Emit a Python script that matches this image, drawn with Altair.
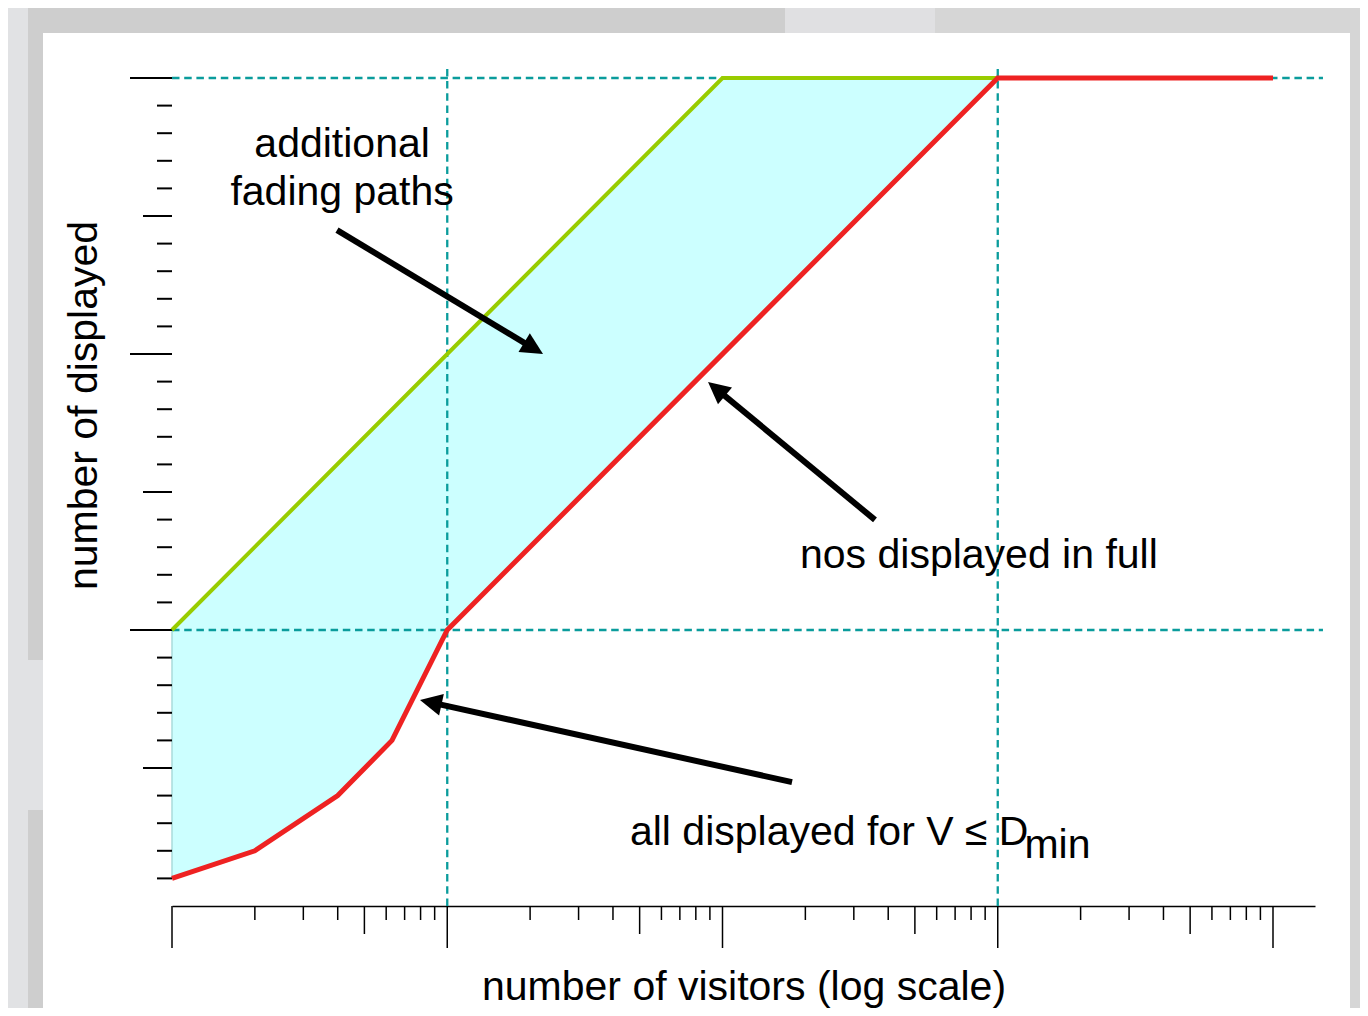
import altair as alt
import pandas as pd

# ---- data (x: visitors, log; y: number displayed) ----
red_x = [1, 2, 4, 6.3, 10, 1000, 10000]
red_y = [1, 2, 4, 6, 10, 30, 30]
green_x = [1, 100, 1000]
green_y = [10, 30, 30]
band_x = [1, 2, 4, 6.3, 10, 100, 1000]
band_upper = [10, 13, 16, 18, 20, 30, 30]
band_lower = [1, 2, 4, 6, 10, 20, 30]

guide_h_y = [30, 10]
guide_h_x0 = [1, 1]
guide_h_x1 = [15190, 15190]
guide_v_x = [10, 1000]
guide_v_y0 = [0, 0]
guide_v_y1 = [30.36, 30.36]

x_ticks_major = [1, 10, 100, 1000, 10000]
x_ticks_mid = [5, 50, 500, 5000]
x_ticks_minor = [2, 3, 4, 6, 7, 8, 9,
                 20, 30, 40, 60, 70, 80, 90,
                 200, 300, 400, 600, 700, 800, 900,
                 2000, 3000, 4000, 6000, 7000, 8000, 9000]
y_ticks_major = [10, 20, 30]
y_ticks_mid = [5, 15, 25]
y_ticks_minor = [1, 2, 3, 4, 6, 7, 8, 9, 11, 12, 13, 14, 16, 17, 18, 19,
                 21, 22, 23, 24, 26, 27, 28, 29]

arrow_tail_x = [3.976, 358.1, 178.9]
arrow_tail_y = [24.49, 13.99, 4.49]
arrow_end_x = [20.43, 95.7, 8.78]
arrow_end_y = [20.22, 18.71, 7.37]
arrow_tip_x = [22.28, 88.6, 7.96]
arrow_tip_y = [20.0, 18.99, 7.46]
arrow_angle = [121.0, 309.6, 282.4]

center_text = ["additional", "fading paths"]
center_x = [4.15, 4.15]
center_y = [27.14, 25.40]
left_text = ["nos displayed in full", "all displayed for V \u2264 D", "min"]
left_x = [191.2, 46.1, 1250]
left_y = [12.25, 2.21, 1.74]

FONT = "Liberation Sans"
FS = 41
TEAL = "#0a9c9c"
PLOT_H = 828

xs = alt.Scale(type="log", domain=[1, 14210], nice=False)
ys = alt.Scale(domain=[0, 30], nice=False, zero=False)

x_axis = alt.Axis(
    labels=False, ticks=False, grid=False, domain=True,
    domainColor="black", domainWidth=1.5,
    title="number of visitors (log scale)", titleFont=FONT, titleFontSize=FS,
    titleFontWeight="normal", titleColor="black", titleY=93,
    titleBaseline="alphabetic")

y_axis = alt.Axis(
    labels=False, ticks=False, grid=False, domain=False,
    title="number of displayed", titleFont=FONT, titleFontSize=FS,
    titleFontWeight="normal", titleColor="black", titleX=-76, titleY=327,
    titleAngle=270, titleBaseline="alphabetic", titleAlign="center")


def X(field):
    return alt.X(field, scale=xs, axis=x_axis)


def Y(field):
    return alt.Y(field, scale=ys, axis=y_axis)


dummy = pd.DataFrame({"k": [0]})


def panel(x0, x1, y0, y1, color):
    return alt.Chart(dummy).mark_rect(color=color, strokeWidth=0).encode(
        x=alt.value(x0), x2=alt.value(x1), y=alt.value(y0), y2=alt.value(y1))


bg = [
    panel(-200, 613, -100, -45, "#cecece"),
    panel(613, 763, -100, -45, "#e0e0e2"),
    panel(763, 1300, -100, -45, "#d6d6d6"),
    panel(-200, -144, -100, 1000, "#e1e2e4"),
    panel(-144, -129, -45, 582, "#cecece"),
    panel(-144, -129, 582, 732, "#e1e2e4"),
    panel(-144, -129, 732, 1000, "#cecece"),
    panel(1178, 1300, -45, 1000, "#d6d6d6"),
]


def x_tick_layer(values, length):
    return alt.Chart(pd.DataFrame({"v": values})).mark_rule(
        color="black", strokeWidth=1.5
    ).encode(
        x=X("v:Q"),
        y=alt.value(PLOT_H), y2=alt.value(PLOT_H + length),
    )


def y_tick_layer(values, length):
    return alt.Chart(pd.DataFrame({"v": values})).mark_rule(
        color="black", strokeWidth=2
    ).encode(
        y=Y("v:Q"),
        x=alt.value(-length), x2=alt.value(0),
    )


ticks = [
    x_tick_layer(x_ticks_major, 42),
    x_tick_layer(x_ticks_mid, 28),
    x_tick_layer(x_ticks_minor, 14),
    y_tick_layer(y_ticks_major, 42),
    y_tick_layer(y_ticks_mid, 29),
    y_tick_layer(y_ticks_minor, 15),
]

band_df = pd.DataFrame({"x": band_x, "up": band_upper, "lo": band_lower})
band = alt.Chart(band_df).mark_area(
    color="#ccffff", opacity=1, stroke="#a9dcdc", strokeWidth=1.5
).encode(
    x=X("x:Q"),
    y=Y("up:Q"),
    y2="lo:Q",
)

h_df = pd.DataFrame({"y": guide_h_y, "x0": guide_h_x0, "x1": guide_h_x1})
h_rules = alt.Chart(h_df).mark_rule(
    color=TEAL, strokeWidth=2.3, strokeDash=[7.5, 4.7]
).encode(
    x=X("x0:Q"), x2="x1:Q",
    y=Y("y:Q"),
)

v_df = pd.DataFrame({"x": guide_v_x, "y0": guide_v_y0, "y1": guide_v_y1})
v_rules = alt.Chart(v_df).mark_rule(
    color=TEAL, strokeWidth=2.3, strokeDash=[7.5, 4.7]
).encode(
    x=X("x:Q"),
    y=Y("y0:Q"), y2="y1:Q",
)

green = alt.Chart(pd.DataFrame({"x": green_x, "y": green_y})).mark_line(
    color="#99cc00", strokeWidth=4
).encode(x=X("x:Q"), y=Y("y:Q"))

red = alt.Chart(pd.DataFrame({"x": red_x, "y": red_y})).mark_line(
    color="#ee2222", strokeWidth=5
).encode(x=X("x:Q"), y=Y("y:Q"))

arrow_df = pd.DataFrame({
    "tx": arrow_tail_x, "ty": arrow_tail_y,
    "ex": arrow_end_x, "ey": arrow_end_y,
    "hx": arrow_tip_x, "hy": arrow_tip_y,
    "angle": arrow_angle,
})
shafts = alt.Chart(arrow_df).mark_rule(color="black", strokeWidth=6).encode(
    x=X("tx:Q"), x2="ex:Q",
    y=Y("ty:Q"), y2="ey:Q",
)
heads = alt.Chart(arrow_df).mark_point(
    shape="M0,0L1,2L-1,2Z", filled=True, color="black", opacity=1,
    size=484, strokeWidth=0
).encode(
    x=X("hx:Q"),
    y=Y("hy:Q"),
    angle=alt.Angle("angle:Q", scale=None),
)

ctext = alt.Chart(pd.DataFrame({"x": center_x, "y": center_y, "t": center_text})).mark_text(
    font=FONT, fontSize=FS, align="center", baseline="alphabetic", color="black"
).encode(x=X("x:Q"), y=Y("y:Q"), text="t:N")

ltext = alt.Chart(pd.DataFrame({"x": left_x, "y": left_y, "t": left_text})).mark_text(
    font=FONT, fontSize=FS, align="left", baseline="alphabetic", color="black"
).encode(x=X("x:Q"), y=Y("y:Q"), text="t:N")

chart = alt.layer(
    band, *bg, *ticks, h_rules, v_rules, green, red, shafts, heads, ctext, ltext
).properties(
    width=1143, height=PLOT_H,
    padding={"left": 164, "top": 70, "right": 45, "bottom": 102},
    autosize=alt.AutoSizeParams(type="none"),
    background="#ffffff",
).configure_view(stroke=None)

chart.save("out.html", embed_options={"renderer": "svg", "actions": False})
